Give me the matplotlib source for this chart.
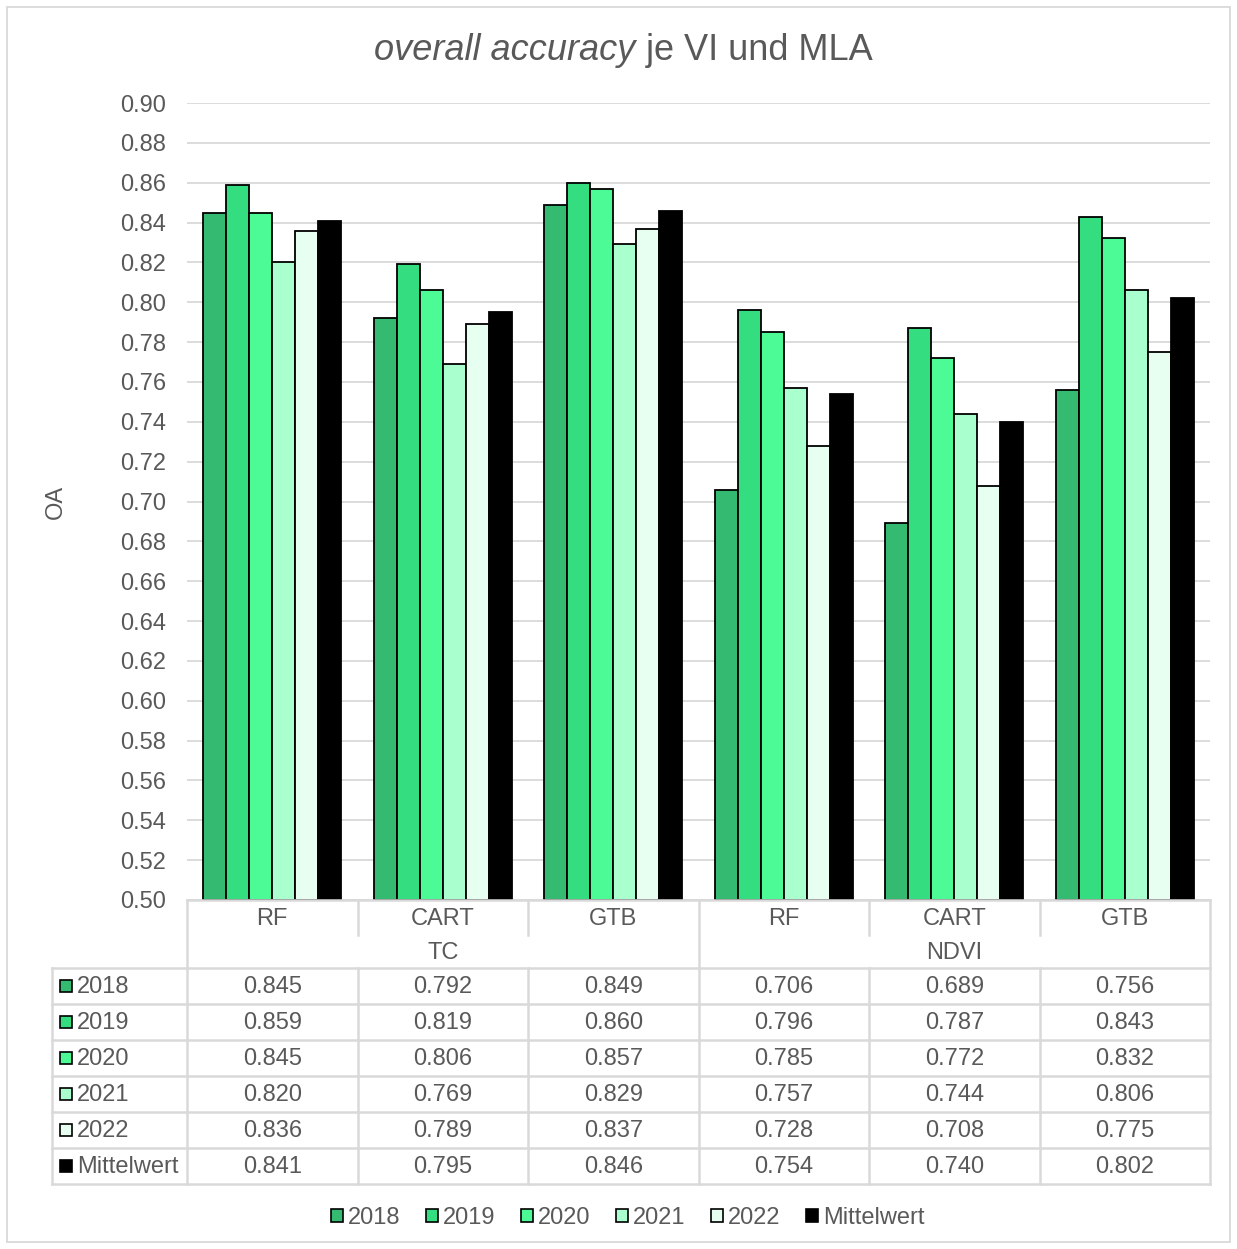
import numpy as np
import matplotlib.pyplot as plt
from matplotlib.patches import Patch, Rectangle
from matplotlib.lines import Line2D

plt.rcParams['font.family'] = ['Liberation Sans', 'DejaVu Sans']

# Daten: OA je Vegetationsindex (VI) und Klassifikator (MLA)
mla = ["RF", "CART", "GTB", "RF", "CART", "GTB"]
vi = ["TC", "NDVI"]
years = ["2018", "2019", "2020", "2021", "2022", "Mittelwert"]
oa_2018 = [0.845, 0.792, 0.849, 0.706, 0.689, 0.756]
oa_2019 = [0.859, 0.819, 0.860, 0.796, 0.787, 0.843]
oa_2020 = [0.845, 0.806, 0.857, 0.785, 0.772, 0.832]
oa_2021 = [0.820, 0.769, 0.829, 0.757, 0.744, 0.806]
oa_2022 = [0.836, 0.789, 0.837, 0.728, 0.708, 0.775]
oa_mean = [0.841, 0.795, 0.846, 0.754, 0.740, 0.802]
series = [oa_2018, oa_2019, oa_2020, oa_2021, oa_2022, oa_mean]
colors = ["#35BA72", "#33DD80", "#4CFA96", "#AAFFCF", "#E6FFF1", "#000000"]

W, H = 1237, 1249
txt = "#595959"
grid = "#D9D9D9"
fs = 17

fig = plt.figure(figsize=(W / 100, H / 100), dpi=100)

def fx(px):
    return px / W

def fy(py):
    return 1 - py / H

# Diagrammfläche
x0, x1, ytop, ybot = 187, 1210, 103, 900
ax = fig.add_axes([fx(x0), fy(ybot), fx(x1 - x0), fy(ytop) - fy(ybot)])
x = np.arange(len(mla))
bw = 0.135
for i, (vals, c) in enumerate(zip(series, colors)):
    ax.bar(x + (i - 2.5) * bw, np.array(vals) - 0.5, bw, bottom=0.5,
           color=c, edgecolor="black", linewidth=1.3, zorder=3)

ax.set_xlim(-0.5, len(mla) - 0.5)
ax.set_ylim(0.5, 0.9)
ticks = np.arange(0.5, 0.901, 0.02)
ax.set_yticks(ticks)
ax.set_yticklabels([f"{v:.2f}" for v in ticks])
ax.tick_params(axis="y", length=0, labelsize=fs, labelcolor=txt, pad=15)
ax.set_xticks([])
ax.grid(axis="y", color=grid, linewidth=1.3, zorder=0)
for s in ax.spines.values():
    s.set_visible(False)
ax.set_ylabel("OA", fontsize=fs, color=txt, labelpad=38)

fig.text(0.514, fy(50), "overall accuracy", fontsize=26, color=txt,
         style="italic", ha="right", va="center")
fig.text(0.514, fy(50), " je VI und MLA", fontsize=26, color=txt,
         ha="left", va="center")

# Datentabelle unter dem Diagramm
def hline(xa, xb, y):
    fig.add_artist(Line2D([fx(xa), fx(xb)], [fy(y), fy(y)], color=grid, lw=1.8))

def vline(xp, ya, yb):
    fig.add_artist(Line2D([fx(xp), fx(xp)], [fy(ya), fy(yb)], color=grid, lw=1.8))

cw = (x1 - x0) / len(mla)
cols = [x0 + cw * k for k in range(len(mla) + 1)]
rows = [968 + 36 * k for k in range(len(years) + 1)]
tleft = 52

hline(x0, x1, ybot)
for r in rows:
    hline(tleft, x1, r)
vline(tleft, rows[0], rows[-1])
vline(x0, ybot, rows[-1])
vline(x1, ybot, rows[-1])
vline(cols[3], ybot, rows[-1])
for k in [1, 2, 4, 5]:
    vline(cols[k], ybot, 935)
    vline(cols[k], rows[0], rows[-1])

for k, name in enumerate(mla):
    fig.text(fx(cols[k] + cw / 2), fy(919), name, fontsize=fs, color=txt,
             ha="center", va="center")
for k, name in enumerate(vi):
    fig.text(fx(cols[3 * k] + 1.5 * cw), fy(953), name, fontsize=fs,
             color=txt, ha="center", va="center")

for i, (yr, vals, c) in enumerate(zip(years, series, colors)):
    yc = rows[i] + 19
    fig.add_artist(Rectangle((fx(60), fy(yc + 5)), fx(12), fy(0) - fy(12),
                             transform=fig.transFigure, facecolor=c,
                             edgecolor="black", linewidth=1.2))
    fig.text(fx(77), fy(yc), yr, fontsize=fs, color=txt, ha="left",
             va="center")
    for k, v in enumerate(vals):
        fig.text(fx(cols[k] + cw / 2), fy(yc), f"{v:.3f}", fontsize=fs,
                 color=txt, ha="center", va="center")

handles = [Patch(facecolor=c, edgecolor="black", linewidth=1.2) for c in colors]
fig.legend(handles, years, loc="center", bbox_to_anchor=(fx(628), fy(1218)),
           ncol=6, frameon=False, fontsize=fs, labelcolor=txt,
           handlelength=0.5, handleheight=0.5, handletextpad=0.2,
           columnspacing=1.1)

# Rahmen um das gesamte Diagramm
fig.add_artist(Rectangle((fx(7), fy(1242)), fx(1223), fy(0) - fy(1235),
                         transform=fig.transFigure, fill=False,
                         edgecolor=grid, linewidth=1.3))

fig.savefig("out.png", dpi=100)
